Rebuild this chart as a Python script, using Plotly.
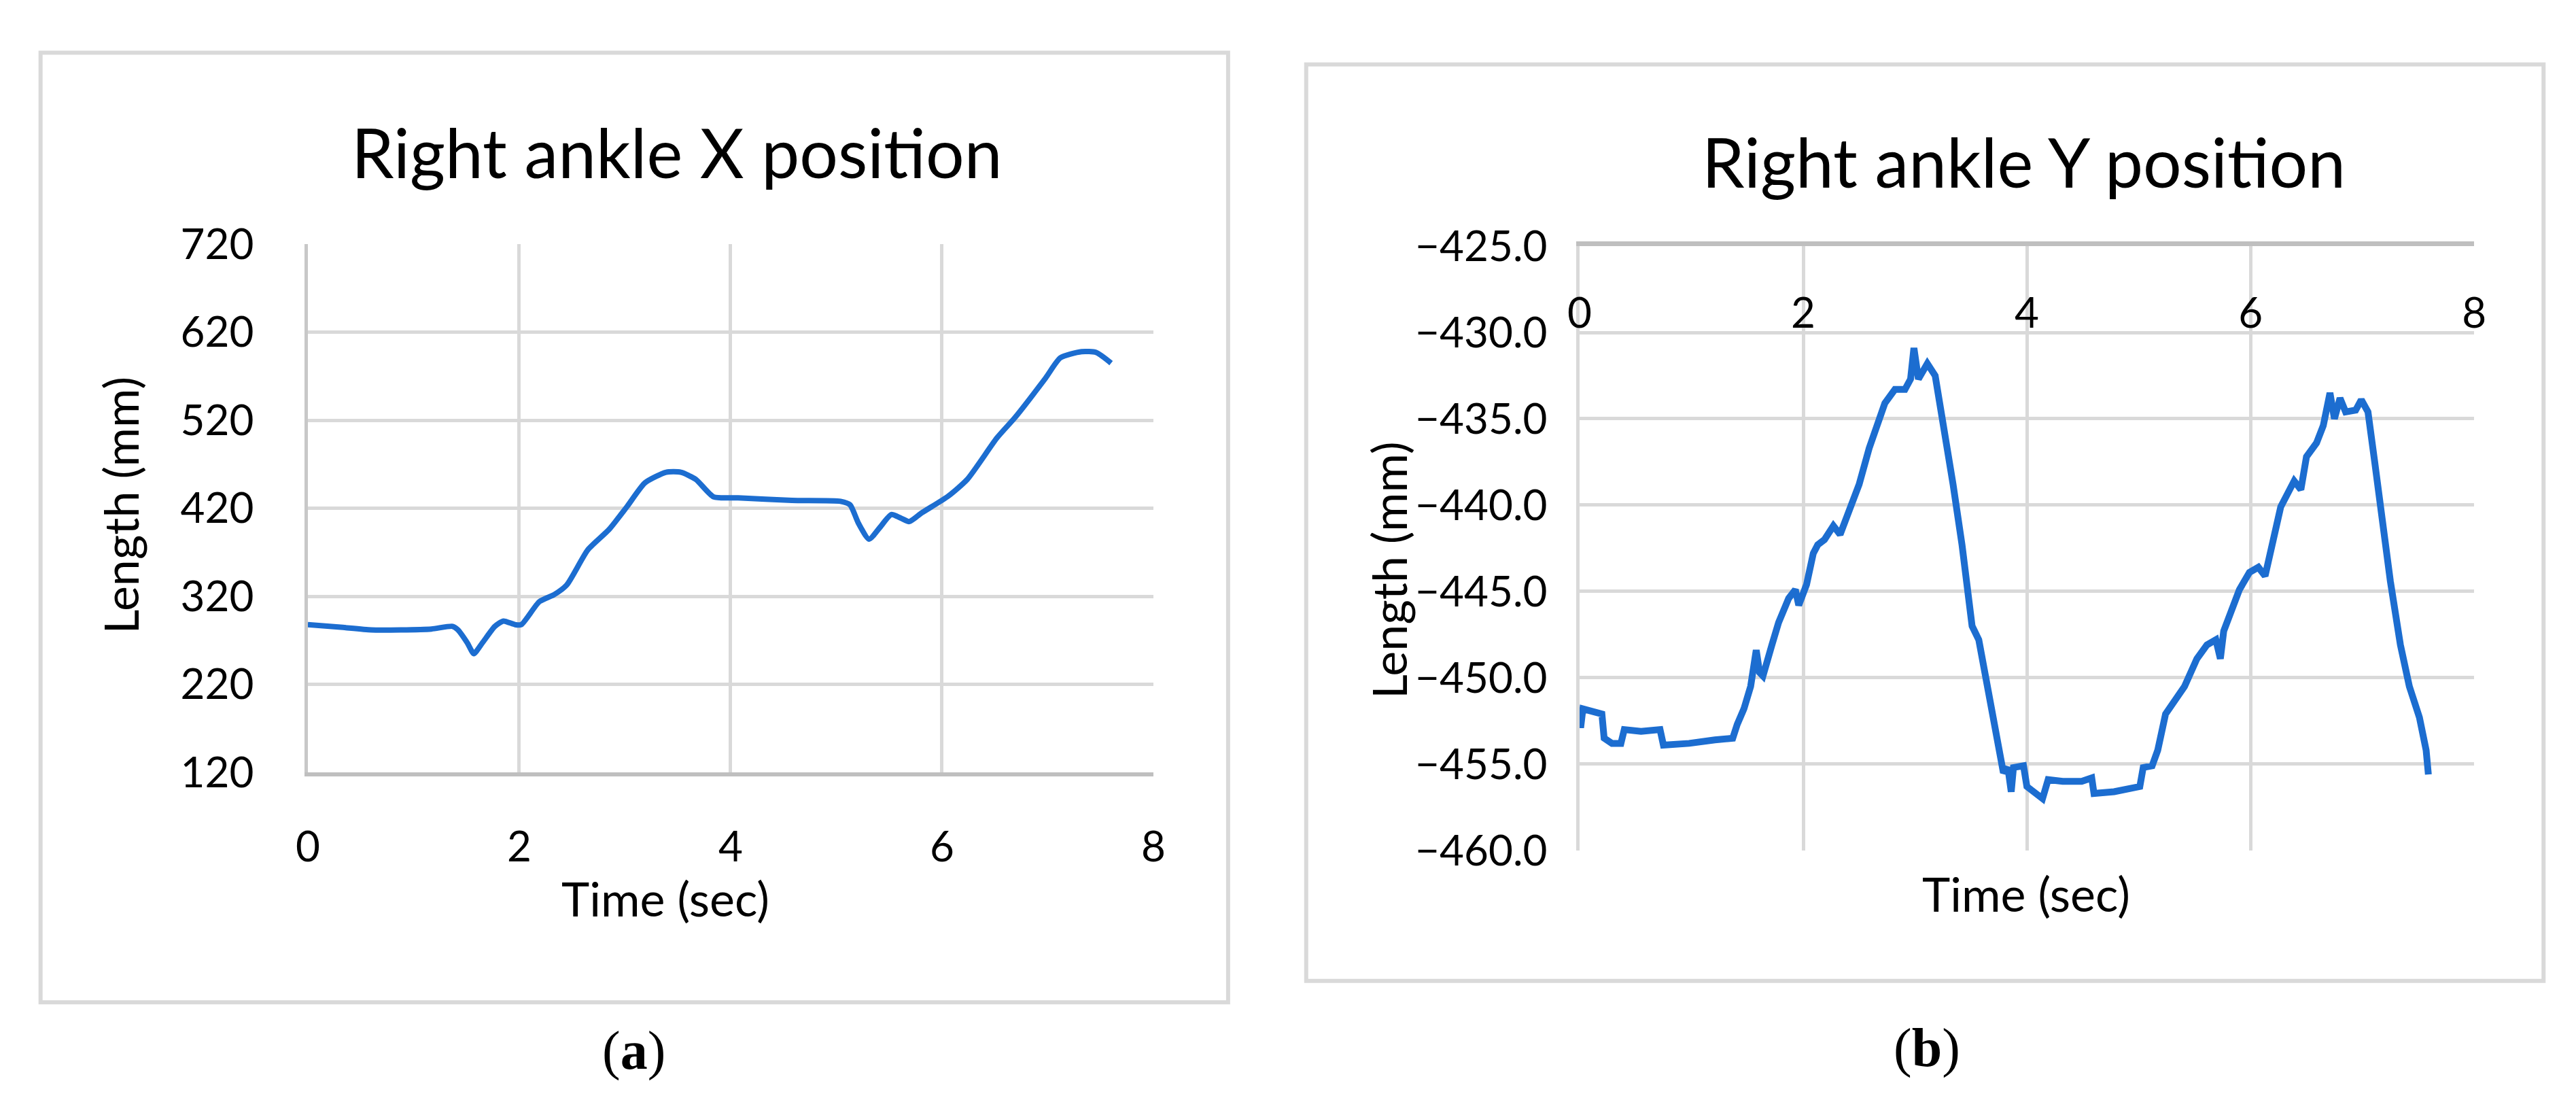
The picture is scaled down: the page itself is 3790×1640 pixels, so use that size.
import plotly.graph_objects as go

# Right ankle X position (panel a)
time_a = [0.0, 0.31, 0.6, 0.88, 1.17, 1.37, 1.42, 1.51, 1.57, 1.65, 1.77, 1.85, 1.96, 2.02,
          2.19, 2.33, 2.45, 2.65, 2.85, 3.02, 3.19, 3.39, 3.53, 3.67, 3.84, 4.07, 4.58, 5.04,
          5.13, 5.21, 5.31, 5.41, 5.52, 5.61, 5.69, 5.81, 6.06, 6.24, 6.52, 6.69, 6.98, 7.12,
          7.32, 7.46, 7.60]
length_a = [288, 285, 282, 282, 283, 286, 282, 267, 255, 267, 286, 292, 288, 288,
            314, 322, 333, 373, 396, 422, 449, 461, 461, 453, 433, 432, 429, 428,
            424, 403, 385, 398, 413, 409, 405, 415, 434, 453, 500, 523, 568, 591,
            598, 597, 585]

# Right ankle Y position (panel b)
time_b = [0.0, 0.01, 0.03, 0.115, 0.2, 0.22, 0.29, 0.37, 0.40, 0.55, 0.72, 0.75, 0.98, 1.21,
          1.37, 1.41, 1.47, 1.53, 1.58, 1.61, 1.64, 1.72, 1.78, 1.87, 1.93, 1.96, 2.03, 2.09,
          2.13, 2.19, 2.27, 2.33, 2.42, 2.50, 2.59, 2.68, 2.73, 2.82, 2.91, 2.96, 2.99, 3.03,
          3.11, 3.18, 3.25, 3.34, 3.42, 3.51, 3.57, 3.65, 3.74, 3.79, 3.83, 3.86, 3.88, 3.97,
          4.0, 4.06, 4.14, 4.19, 4.32, 4.49, 4.58, 4.60, 4.78, 5.01, 5.04, 5.12, 5.17, 5.24,
          5.32, 5.41, 5.52, 5.61, 5.69, 5.73, 5.76, 5.84, 5.90, 5.99, 6.07, 6.13, 6.19, 6.27,
          6.39, 6.45, 6.50, 6.59, 6.65, 6.71, 6.75, 6.80, 6.85, 6.94, 6.99, 7.05, 7.11, 7.17,
          7.25, 7.34, 7.42, 7.51, 7.57, 7.59]
length_b = [-451.8, -452.9, -451.8, -452.0, -452.1, -453.5, -453.8, -453.8, -453.0, -453.1,
            -453.0, -453.9, -453.8, -453.6, -453.5, -452.7, -451.8, -450.5, -448.4, -449.7,
            -449.9, -448.1, -446.8, -445.4, -444.9, -445.8, -444.6, -442.8, -442.3, -442.0,
            -441.2, -441.7, -440.1, -438.8, -436.7, -435.0, -434.1, -433.3, -433.3, -432.7,
            -430.9, -432.7, -431.8, -432.5, -435.1, -438.8, -442.3, -447.0, -447.8, -450.5,
            -453.9, -455.5, -455.2, -456.6, -455.2, -455.1, -456.3, -456.6, -457.0, -455.9,
            -456.0, -456.0, -455.8, -456.7, -456.6, -456.3, -455.2, -455.1, -454.2, -452.1,
            -451.3, -450.5, -448.9, -448.1, -447.8, -448.9, -447.3, -446.0, -444.9, -443.9,
            -443.6, -444.1, -442.3, -440.1, -438.6, -439.1, -437.2, -436.4, -435.4, -433.5,
            -435.0, -433.8, -434.6, -434.5, -433.9, -434.6, -437.5, -440.7, -444.4, -448.1,
            -450.5, -452.3, -454.2, -455.6]

x_ticks = [0, 2, 4, 6, 8]

# page body has an 8px margin, so the figure is drawn 8px in from the corner
OFF = 8
W, H = 3790 - OFF, 1640 - OFF
FONT = "Lato, Carlito, Calibri, sans-serif"
BLUE = "#1c6dd0"
GRID = "#d9d9d9"


def px(x):
    return (x - OFF) / W


def py(y):
    return 1 - (y - OFF) / H


fig = go.Figure()
fig.add_trace(go.Scatter(x=time_a, y=length_a, mode="lines", xaxis="x", yaxis="y",
                         line=dict(color=BLUE, width=8, shape="spline", smoothing=0.6),
                         showlegend=False))
fig.add_trace(go.Scatter(x=time_b, y=length_b, mode="lines", xaxis="x2", yaxis="y2",
                         line=dict(color=BLUE, width=10), showlegend=False))
# hidden copy so the label-only axis of panel b gets drawn
fig.add_trace(go.Scatter(x=time_b, y=length_b, mode="lines", xaxis="x3", yaxis="y2",
                         opacity=0, hoverinfo="skip", showlegend=False))

tick_font = dict(family=FONT, size=62, color="black")
axis_common = dict(showgrid=True, gridcolor=GRID, gridwidth=5, zeroline=False, ticks="",
                   tickfont=tick_font, fixedrange=True)

fig.update_layout(
    width=W, height=H,
    margin=dict(l=0, r=0, t=0, b=0),
    paper_bgcolor="white", plot_bgcolor="white",
    xaxis=dict(domain=[px(439), px(1695)], range=[0, 8], tickvals=x_ticks, anchor="y",
               showline=True, linecolor="#bfbfbf", linewidth=6, ticklabelstandoff=50,
               **axis_common),
    yaxis=dict(domain=[py(1149), py(335)], range=[120, 720], dtick=100, tick0=120, anchor="x",
               showline=True, linecolor="#c8c8c8", linewidth=5, ticklabelstandoff=62,
               **axis_common),
    xaxis2=dict(domain=[px(2328), px(3657)], range=[0, 8], tickvals=x_ticks, anchor="y2",
                side="top", showticklabels=False,
                showline=True, linecolor="#bfbfbf", linewidth=7, **axis_common),
    xaxis3=dict(overlaying="x2", range=[0, 8], tickvals=x_ticks, anchor="free",
                position=py(396), side="bottom", showgrid=False, showline=False,
                zeroline=False, ticks="", tickfont=tick_font, ticklabelstandoff=2,
                fixedrange=True),
    yaxis2=dict(domain=[py(1269), py(338)], range=[-460, -425], dtick=5, tickformat=".1f",
                anchor="x2", showline=True, linecolor=GRID, linewidth=5, ticklabelstandoff=30,
                **axis_common),
)

# panel frames
fig.add_shape(type="rect", xref="paper", yref="paper", x0=px(42), x1=px(1806), y0=py(1503), y1=py(40),
              line=dict(color=GRID, width=6))
fig.add_shape(type="rect", xref="paper", yref="paper", x0=px(1922), x1=px(3760), y0=py(1470), y1=py(58),
              line=dict(color=GRID, width=6))

texts = [
    ("Right ankle X position", 987, 192, 100, 0),
    ("Right ankle Y position", 2988, 207, 100, 0),
    ("Time (sec)", 970, 1342, 70, 0),
    ("Time (sec)", 2991, 1335, 70, 0),
    ("Length (mm)", 160, 737, 70, -90),
    ("Length (mm)", 2045, 837, 70, -90),
]
for txt, x, y, size, ang in texts:
    fig.add_annotation(text=txt, x=px(x), y=py(y), xref="paper", yref="paper",
                       xanchor="center", yanchor="middle", showarrow=False, textangle=ang,
                       font=dict(family=FONT, size=size, color="black"))

for lab, x, y in [("a", 923, 1578), ("b", 2844, 1574)]:
    fig.add_annotation(text=f"(<b>{lab}</b>)", x=px(x), y=py(y), xref="paper", yref="paper",
                       xanchor="center", yanchor="middle", showarrow=False,
                       font=dict(family="Liberation Serif, Times New Roman, serif", size=80, color="black"))

fig.write_html("out.html")
